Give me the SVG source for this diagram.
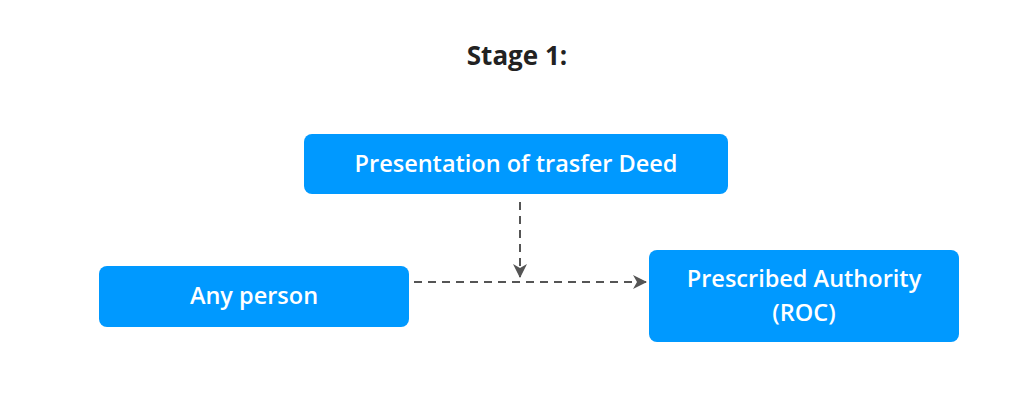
<svg xmlns="http://www.w3.org/2000/svg" width="1024" height="419" viewBox="0 0 1024 419">
<defs>
<style>
.box{fill:#0099ff;}
.lbl{font-family:"Open Sans","Noto Sans",sans-serif;font-weight:600;font-size:23.5px;fill:#ffffff;text-anchor:middle;}
.title{font-family:"Open Sans","Noto Sans",sans-serif;font-weight:700;font-size:26px;fill:#222222;text-anchor:middle;}
.conn{stroke:#555555;stroke-width:2;stroke-dasharray:8 6;fill:none;}
</style>
<marker id="arr" markerWidth="14" markerHeight="14" refX="13" refY="7" orient="auto" markerUnits="userSpaceOnUse">
<path d="M0,0 L14,7 L0,14 L4,7 Z" fill="#555555"/>
</marker>
</defs>
<rect width="1024" height="419" fill="#ffffff"/>
<text class="title" x="517" y="65">Stage 1:</text>
<g id="connectors">
<path class="conn" d="M520,202 L520,277" marker-end="url(#arr)"/>
<path class="conn" d="M414,282 L646,282" marker-end="url(#arr)"/>
</g>
<g id="node-deed">
<rect class="box" x="304" y="134" width="424" height="60" rx="8"/>
<text class="lbl" x="516" y="172">Presentation of trasfer Deed</text>
</g>
<g id="node-person">
<rect class="box" x="99" y="266" width="310" height="61" rx="8"/>
<text class="lbl" x="254" y="304">Any person</text>
</g>
<g id="node-roc">
<rect class="box" x="649" y="250" width="310" height="92" rx="8"/>
<text class="lbl" x="804" y="287">Prescribed Authority</text>
<text class="lbl" x="804" y="321">(ROC)</text>
</g>
</svg>
